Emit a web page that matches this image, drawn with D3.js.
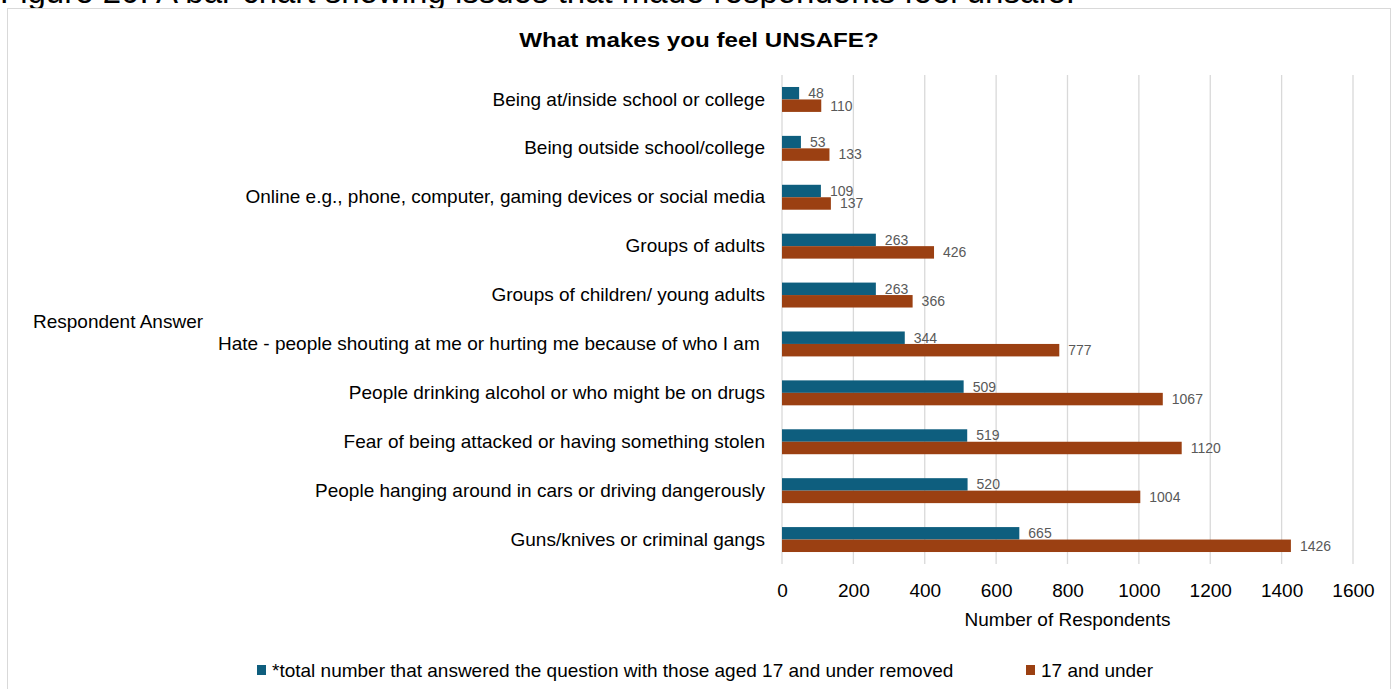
<!DOCTYPE html>
<html>
<head>
<meta charset="utf-8">
<script src="https://cdn.jsdelivr.net/npm/d3@7"></script>
<style>
  html, body { margin: 0; padding: 0; background: #fff; }
  svg { display: block; font-family: "Liberation Sans", Arial, sans-serif; }
</style>
</head>
<body>
<svg id="chart" width="1396" height="689"></svg>
<script>
// Survey answers, top to bottom
const categories = [
  "Being at/inside school or college",
  "Being outside school/college",
  "Online e.g., phone, computer, gaming devices or social media",
  "Groups of adults",
  "Groups of children/ young adults",
  "Hate - people shouting at me or hurting me because of who I am ",
  "People drinking alcohol or who might be on drugs",
  "Fear of being attacked or having something stolen",
  "People hanging around in cars or driving dangerously",
  "Guns/knives or criminal gangs"
];
const seriesNames = [
  "*total number that answered the question with those aged 17 and under removed",
  "17 and under"
];
const totalExcl17 = [48, 53, 109, 263, 263, 344, 509, 519, 520, 665];
const under17 = [110, 133, 137, 426, 366, 777, 1067, 1120, 1004, 1426];
const xTicks = [0, 200, 400, 600, 800, 1000, 1200, 1400, 1600];

const colors = ["#0e5e7e", "#9b4012"];
const seriesValues = [totalExcl17, under17];

const svg = d3.select("#chart");
const FONT = 19;

// caption above the chart frame
svg.append("text")
  .attr("x", 0).attr("y", 3)
  .attr("font-size", 33).attr("fill", "#000")
  .text("Figure 20: A bar chart showing issues that made respondents feel unsafe.");

// chart frame
svg.append("rect")
  .attr("x", 7.5).attr("y", 8.5)
  .attr("width", 1383).attr("height", 700)
  .attr("fill", "#fff").attr("stroke", "#d9d9d9").attr("stroke-width", 1);

const plot = { left: 782, right: 1353, top: 75, bottom: 564 };

const x = d3.scaleLinear().domain([0, 1600]).range([plot.left, plot.right]);
const y = d3.scaleBand().domain(categories)
  .range([plot.top, plot.bottom]).paddingInner(0.49).paddingOuter(0.245);
const ySub = d3.scaleBand().domain([0, 1]).range([0, y.bandwidth()]);

// title
svg.append("text")
  .attr("transform", "translate(699,40) scale(1.15,1)")
  .attr("dy", "0.35em")
  .attr("text-anchor", "middle").attr("font-size", 21).attr("font-weight", "bold")
  .attr("fill", "#000")
  .text("What makes you feel UNSAFE?");

// vertical gridlines
svg.append("g").selectAll("line").data(xTicks).join("line")
  .attr("x1", d => x(d)).attr("x2", d => x(d))
  .attr("y1", plot.top).attr("y2", plot.bottom)
  .attr("stroke", "#d9d9d9").attr("stroke-width", 1.3);

// x axis tick labels
const xAxis = d3.axisBottom(x).tickValues(xTicks).tickFormat(d3.format("d"))
  .tickSize(0).tickPadding(0);
const gx = svg.append("g").attr("transform", `translate(0,${plot.bottom + 26})`).call(xAxis);
gx.select(".domain").remove();
gx.selectAll("text")
  .attr("font-size", FONT).attr("fill", "#000")
  .attr("font-family", "Liberation Sans, Arial, sans-serif")
  .attr("dy", "0.35em").attr("y", 0);

// y axis category labels
const yAxis = d3.axisLeft(y).tickSize(0).tickPadding(0);
const gy = svg.append("g").attr("transform", `translate(${plot.left - 17},0)`).call(yAxis);
gy.select(".domain").remove();
gy.selectAll("text")
  .attr("font-size", FONT).attr("fill", "#000")
  .attr("font-family", "Liberation Sans, Arial, sans-serif")
  .style("white-space", "pre");

// bars with value labels
const groups = svg.append("g").selectAll("g").data(categories).join("g")
  .attr("transform", d => `translate(0,${y(d)})`);

seriesValues.forEach((vals, s) => {
  groups.append("rect")
    .attr("x", x(0))
    .attr("y", ySub(s))
    .attr("width", (d, i) => x(vals[i]) - x(0))
    .attr("height", ySub.bandwidth())
    .attr("fill", colors[s]);
  groups.append("text")
    .attr("x", (d, i) => x(vals[i]) + 9)
    .attr("y", ySub(s) + ySub.bandwidth() / 2)
    .attr("dy", "0.35em")
    .attr("font-size", 14).attr("fill", "#595959")
    .text((d, i) => vals[i]);
});

// axis titles
svg.append("text")
  .attr("x", (plot.left + plot.right) / 2).attr("y", 619).attr("dy", "0.35em")
  .attr("text-anchor", "middle").attr("font-size", FONT).attr("fill", "#000")
  .text("Number of Respondents");
svg.append("text")
  .attr("x", 33).attr("y", 321).attr("dy", "0.35em")
  .attr("font-size", FONT).attr("fill", "#000")
  .text("Respondent Answer");

// legend
const legendX = [257, 1026];
const legend = svg.append("g").selectAll("g").data(seriesNames).join("g")
  .attr("transform", (d, i) => `translate(${legendX[i]},670)`);
legend.append("rect").attr("x", 0).attr("y", -5).attr("width", 9).attr("height", 10)
  .attr("fill", (d, i) => colors[i]);
legend.append("text").attr("x", 15).attr("y", 0).attr("dy", "0.35em")
  .attr("font-size", FONT).attr("fill", "#000").text(d => d);
</script>
</body>
</html>
